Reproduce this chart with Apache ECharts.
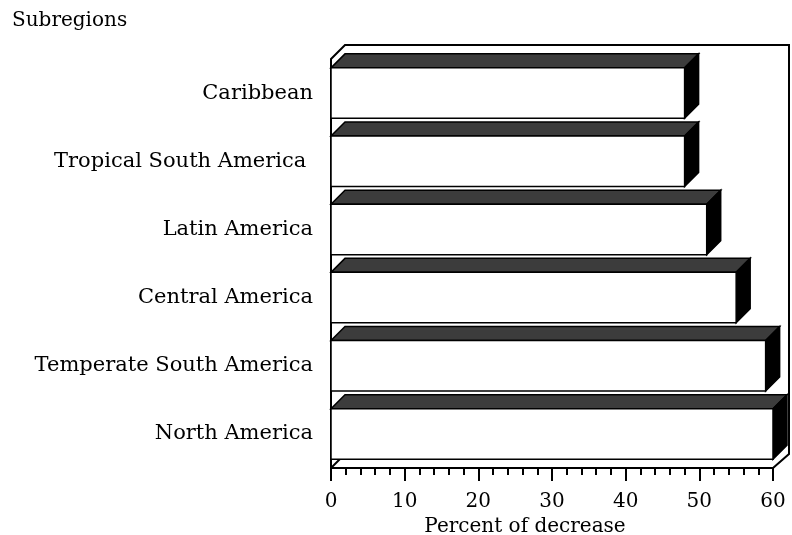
<!DOCTYPE html>
<html><head><meta charset="utf-8">
<script src="https://cdn.jsdelivr.net/npm/echarts@6/dist/echarts.min.js"></script>
<style>html,body{margin:0;padding:0;background:#fff}#c{width:792px;height:535px}</style>
</head><body><div id="c"></div>
<script>
const categories = ['Caribbean', 'Tropical South America ', 'Latin America', 'Central America', 'Temperate South America', 'North America'];
const values = [48, 48, 51, 55, 59, 60];
const xTicks = [0, 10, 20, 30, 40, 50, 60];

const DX = 14, DY = 14;
const FONT = 'DejaVu Serif';
const chart = echarts.init(document.getElementById('c'));

function barItem(params, api) {
  const v = api.value(0), idx = api.value(1);
  const p0 = api.coord([0, idx]);
  const p1 = api.coord([v, idx]);
  const band = api.size([0, 1])[1];
  const h = band * 0.74;
  const yT = p0[1] - h / 2, yB = p0[1] + h / 2;
  const x0 = p0[0], x1 = p1[0];
  return {
    type: 'group',
    children: [
      { type: 'polygon', shape: { points: [[x0, yT], [x0 + DX, yT - DY], [x1 + DX, yT - DY], [x1, yT]] },
        style: { fill: '#3c3c3c', stroke: '#000', lineWidth: 1.5 } },
      { type: 'polygon', shape: { points: [[x1, yT], [x1 + DX, yT - DY], [x1 + DX, yB - DY], [x1, yB]] },
        style: { fill: '#000', stroke: '#000', lineWidth: 1.5 } },
      { type: 'rect', shape: { x: x0, y: yT, width: x1 - x0, height: h },
        style: { fill: '#fff', stroke: '#000', lineWidth: 1.5 } }
    ]
  };
}

function frameItem(params, api) {
  const cs = params.coordSys;
  const l = cs.x, t = cs.y, r = cs.x + cs.width, b = cs.y + cs.height;
  const st = { stroke: '#000', lineWidth: 2, fill: null };
  return {
    type: 'group',
    children: [
      { type: 'polyline', shape: { points: [[l, t], [l + DX, t - DY], [r + DX + 2, t - DY], [r + DX + 2, b - DY], [r, b]] }, style: st },
      { type: 'line', shape: { x1: l, y1: b, x2: l + DX, y2: b - DY }, style: st }
    ]
  };
}

chart.setOption({
  backgroundColor: '#fff',
  animation: false,
  title: { text: 'Subregions', left: 7, top: 6,
    textStyle: { fontFamily: FONT, fontSize: 20, fontWeight: 'normal', color: '#000' } },
  grid: { left: 331, right: 19, top: 59, bottom: 67, containLabel: false, outerBoundsMode: 'none' },
  xAxis: {
    type: 'value', min: xTicks[0], max: xTicks[xTicks.length - 1], interval: 10,
    name: 'Percent of decrease', nameLocation: 'middle', nameGap: 44,
    nameTextStyle: { fontFamily: FONT, fontSize: 20, color: '#000', padding: [0, 54, 0, 0] },
    axisLine: { show: true, lineStyle: { color: '#000', width: 2 } },
    axisTick: { show: true, length: 13, lineStyle: { color: '#000', width: 2 } },
    minorTick: { show: true, splitNumber: 5, length: 7, lineStyle: { color: '#000', width: 2 } },
    splitLine: { show: false },
    axisLabel: { fontFamily: FONT, fontSize: 20, color: '#000', margin: 24 }
  },
  yAxis: {
    type: 'category', data: categories, inverse: true,
    axisLine: { show: true, lineStyle: { color: '#000', width: 2 } },
    axisTick: { show: false },
    axisLabel: { fontFamily: FONT, fontSize: 21, color: '#000', margin: 18 }
  },
  series: [
    { type: 'custom', renderItem: frameItem, data: [[0, 0]], encode: { x: 0, y: 1 }, z: 1, silent: true },
    { type: 'custom', renderItem: barItem, data: values.map((v, i) => [v, i]), encode: { x: 0, y: 1 }, z: 2 }
  ]
});
</script></body></html>
